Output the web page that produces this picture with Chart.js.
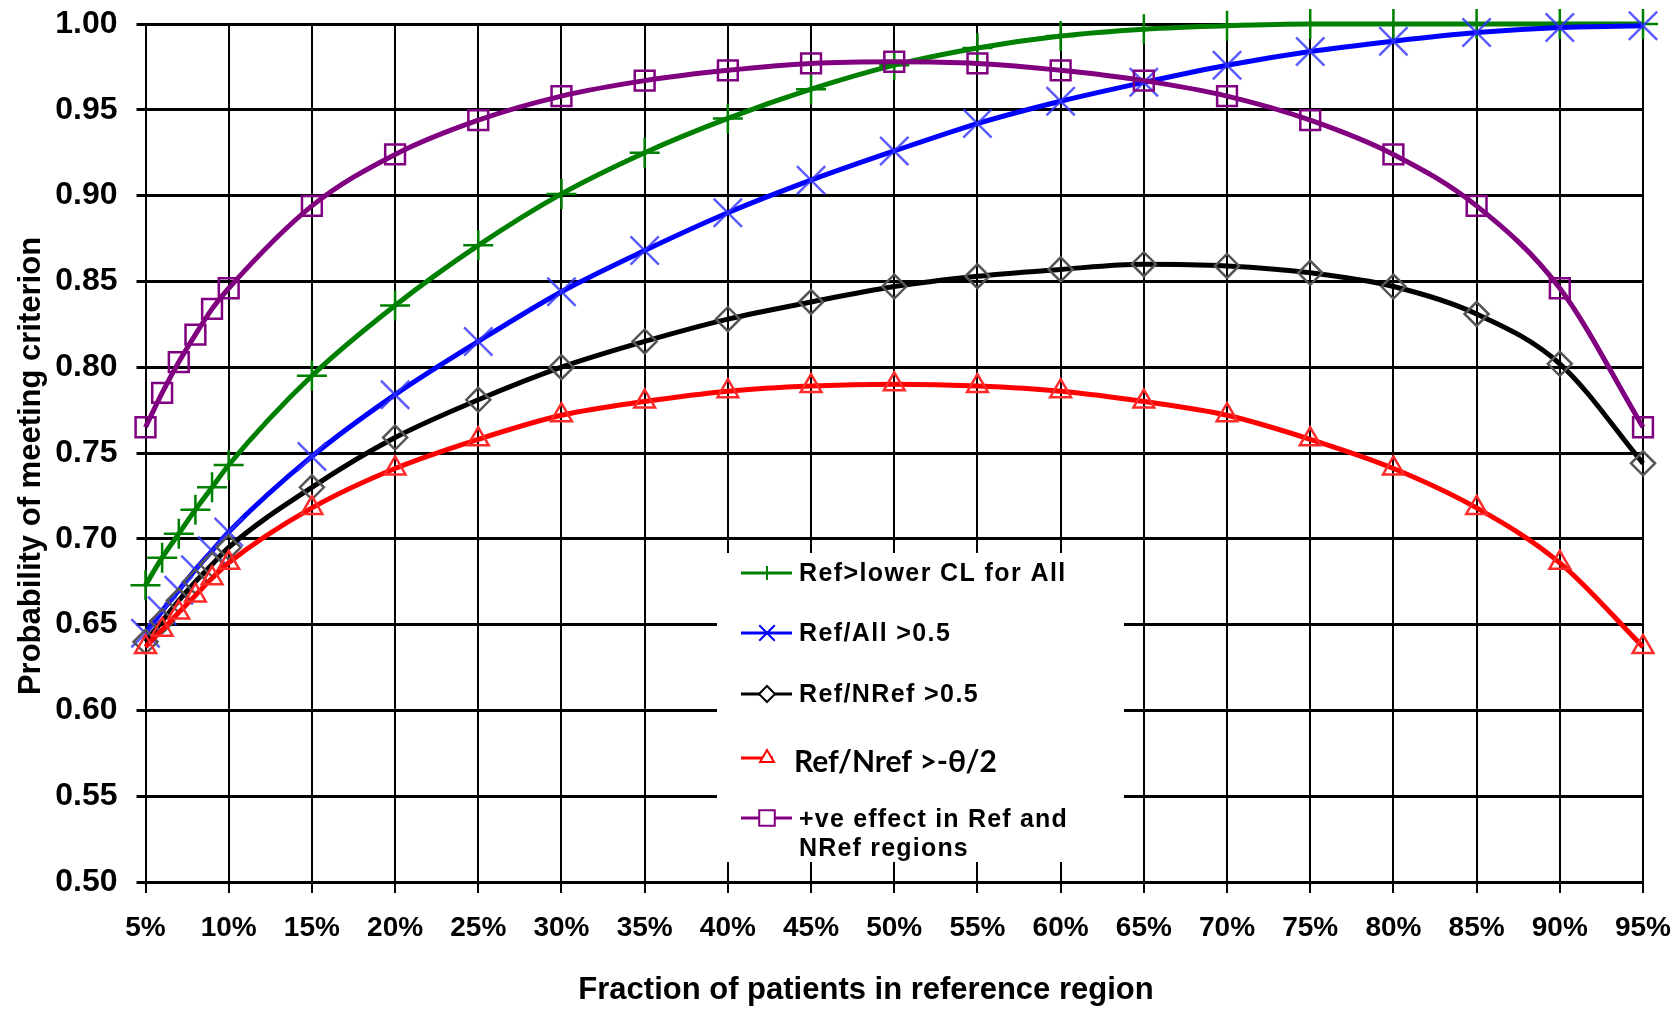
<!DOCTYPE html>
<html>
<head>
<meta charset="utf-8">
<title>Probability of meeting criterion</title>
<script src="https://cdn.jsdelivr.net/npm/chart.js@4.4.1/dist/chart.umd.min.js"></script>
<style>
    html, body { margin: 0; padding: 0; background: #fff; }
    #wrap { width: 1679px; height: 1010px; }
</style>
</head>
<body>
<div id="wrap"><canvas id="probChart" width="1679" height="1010"></canvas></div>
<script>
// fraction of patients in reference region (%)
const FRACTIONS = [5, 6, 7, 8, 9, 10, 15, 20, 25, 30, 35, 40, 45, 50, 55, 60, 65, 70, 75, 80, 85, 90, 95];

const REF_LOWER_CL = [0.673, 0.689, 0.703, 0.717, 0.730, 0.743, 0.795, 0.836, 0.871, 0.901, 0.925, 0.945, 0.962, 0.976, 0.986, 0.993, 0.997, 0.999, 1.000, 1.000, 1.000, 1.000, 1.000];
const REF_ALL = [0.645, 0.658, 0.670, 0.682, 0.693, 0.704, 0.748, 0.784, 0.815, 0.844, 0.868, 0.890, 0.909, 0.926, 0.942, 0.955, 0.966, 0.976, 0.984, 0.990, 0.995, 0.998, 0.999];
const REF_NREF = [0.640, 0.652, 0.664, 0.675, 0.685, 0.695, 0.730, 0.759, 0.781, 0.800, 0.815, 0.828, 0.838, 0.847, 0.853, 0.857, 0.860, 0.859, 0.855, 0.847, 0.831, 0.802, 0.744];
const REF_NREF_THETA = [0.637, 0.647, 0.657, 0.667, 0.677, 0.686, 0.718, 0.741, 0.758, 0.772, 0.780, 0.786, 0.789, 0.790, 0.789, 0.786, 0.780, 0.772, 0.758, 0.741, 0.718, 0.686, 0.637];
const POSITIVE_BOTH = [0.765, 0.785, 0.803, 0.819, 0.834, 0.846, 0.894, 0.924, 0.944, 0.958, 0.967, 0.973, 0.977, 0.978, 0.977, 0.973, 0.967, 0.958, 0.944, 0.924, 0.894, 0.846, 0.765];

const SERIES_LABELS = ['Ref>lower CL for All', 'Ref/All >0.5', 'Ref/NRef >0.5', 'Ref/Nref >-\u03b8/2', '+ve effect in Ref and NRef regions'];
const X_TITLE = 'Fraction of patients in reference region';
const Y_TITLE = 'Probability of meeting criterion';

const Y_MIN = 0.5;
const Y_MAX = 1.0;
const Y_STEP = 0.05;
const X_MIN = 5;
const X_MAX = 95;
const X_STEP = 5;

const FONT = '"Liberation Sans", Arial, sans-serif';

function toPoints(values) {
    return FRACTIONS.map((f, i) => ({ x: f, y: values[i] }));
}

function makeSeries(label, values, color, markerColor, style, radius, order) {
    return {
        label: label,
        data: toPoints(values),
        borderColor: color,
        backgroundColor: color,
        borderWidth: 5,
        cubicInterpolationMode: 'monotone',
        pointStyle: style,
        pointRadius: radius,
        pointBorderWidth: 2.5,
        pointBorderColor: markerColor,
        pointBackgroundColor: 'rgba(0,0,0,0)',
        clip: false,
        order: order
    };
}

// legend box drawn inside the plot, over the grid
const legendBox = {
    id: 'legendBox',
    afterDraw(chart) {
        const ctx = chart.ctx;
        const sets = chart.data.datasets;
        const rows = [573, 633, 694, 758, 818];
        const sampleRadius = [7, 11, 8, 8, 11];

        ctx.save();
        ctx.fillStyle = '#fff';
        ctx.fillRect(717, 553, 407, 309);

        sets.forEach((ds, i) => {
            const y = rows[i];
            const lineEnd = i === 3 ? 773 : 792;
            ctx.strokeStyle = ds.borderColor;
            ctx.lineWidth = 3;
            ctx.beginPath();
            ctx.moveTo(741, y);
            ctx.lineTo(lineEnd, y);
            ctx.stroke();

            ctx.strokeStyle = ds.borderColor;
            ctx.fillStyle = '#fff';
            ctx.lineWidth = 2;
            Chart.helpers.drawPoint(ctx, {
                pointStyle: ds.pointStyle,
                radius: sampleRadius[i],
                rotation: 0,
                borderWidth: 2
            }, 767, y);

            ctx.fillStyle = '#000';
            ctx.textAlign = 'left';
            ctx.textBaseline = 'middle';
            if (i === 3) {
                ctx.letterSpacing = '0px';
                ctx.font = 'bold 30px Lato, "Noto Sans", sans-serif';
                ctx.fillText(ds.label, 794, y + 4);
            } else if (i === 4) {
                ctx.letterSpacing = '1.2px';
                ctx.font = 'bold 25px ' + FONT;
                ctx.fillText('+ve effect in Ref and', 799, y + 2);
                ctx.fillText('NRef regions', 799, y + 31);
            } else {
                ctx.letterSpacing = '1.4px';
                ctx.font = 'bold 25px ' + FONT;
                ctx.fillText(ds.label, 799, y + 1);
            }
        });
        ctx.restore();
    }
};

const axisTitles = {
    id: 'axisTitles',
    afterDraw(chart) {
        const ctx = chart.ctx;
        ctx.save();
        ctx.fillStyle = '#000';
        ctx.font = 'bold 31px ' + FONT;
        ctx.textAlign = 'center';
        ctx.textBaseline = 'alphabetic';
        ctx.fillText(X_TITLE, 866, 999);
        ctx.translate(40, 466);
        ctx.rotate(-Math.PI / 2);
        ctx.fillText(Y_TITLE, 0, 0);
        ctx.restore();
    }
};

function drawChart() {
    const ctx = document.getElementById('probChart').getContext('2d');

    new Chart(ctx, {
        type: 'line',
        data: {
            datasets: [
                makeSeries(SERIES_LABELS[0], REF_LOWER_CL, '#008000', '#008000', 'cross', 15, 5),
                makeSeries(SERIES_LABELS[1], REF_ALL, '#0000ff', 'rgba(50,50,255,0.8)', 'crossRot', 20, 4),
                makeSeries(SERIES_LABELS[2], REF_NREF, '#000000', '#555555', 'rectRot', 12, 3),
                makeSeries(SERIES_LABELS[3], REF_NREF_THETA, '#ff0000', '#ff2a2a', 'triangle', 12, 2),
                makeSeries(SERIES_LABELS[4], POSITIVE_BOTH, '#800080', '#800080', 'rect', 14, 1)
            ]
        },
        options: {
            responsive: false,
            animation: false,
            layout: {
                autoPadding: false,
                padding: { top: 24, right: 36, left: 0, bottom: 0 }
            },
            plugins: {
                legend: { display: false },
                tooltip: { enabled: false }
            },
            scales: {
                x: {
                    type: 'linear',
                    min: X_MIN,
                    max: X_MAX,
                    afterFit: function(scale) {
                        scale.height = 128;
                        scale.paddingLeft = 0;
                        scale.paddingRight = 0;
                    },
                    border: { display: true, color: '#000', width: 3 },
                    grid: { color: '#000', lineWidth: 2, tickLength: 11, tickColor: '#000' },
                    ticks: {
                        stepSize: X_STEP,
                        padding: 18,
                        color: '#000',
                        font: { family: FONT, size: 28, weight: 'bold' },
                        maxRotation: 0,
                        callback: function(value) { return value + '%'; }
                    }
                },
                y: {
                    min: Y_MIN,
                    max: Y_MAX,
                    afterFit: function(scale) {
                        scale.width = 145.5;
                        scale.paddingTop = 0;
                        scale.paddingBottom = 0;
                    },
                    border: { display: true, color: '#000', width: 2 },
                    grid: { color: '#000', lineWidth: 3, tickLength: 9, tickColor: '#000' },
                    ticks: {
                        stepSize: Y_STEP,
                        padding: 19,
                        color: '#000',
                        font: { family: FONT, size: 32, weight: 'bold' },
                        callback: function(value) { return value.toFixed(2); }
                    }
                }
            }
        },
        plugins: [legendBox, axisTitles]
    });
}

window.onload = function() {
    drawChart();
};
</script>
</body>
</html>
